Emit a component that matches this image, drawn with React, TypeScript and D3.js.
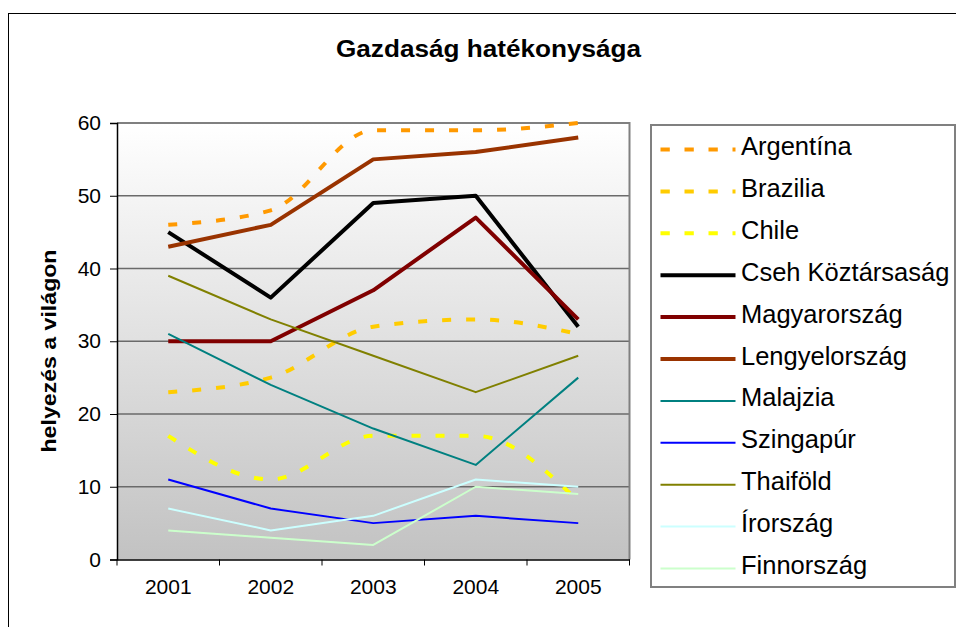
import React, { useEffect, useRef } from "react";
import * as d3 from "d3";

// years on the category axis
const years = ["2001", "2002", "2003", "2004", "2005"];
const yTicks = [0, 10, 20, 30, 40, 50, 60];

// ranking values per country
const argentina = [46, 48, 59, 59, 60];
const brazilia = [23, 25, 32, 33, 31];
const chile = [17, 11, 17, 17, 8];
const cseh = [45, 36, 49, 50, 32];
const magyar = [30, 30, 37, 47, 33];
const lengyel = [43, 46, 55, 56, 58];
const malajzia = [31, 24, 18, 13, 25];
const szingapur = [11, 7, 5, 6, 5];
const thaifold = [39, 33, 28, 23, 28];
const irorszag = [7, 4, 6, 11, 10];
const finnorszag = [4, 3, 2, 10, 9];

const series = [
  { name: "Argentína", values: argentina, color: "#FF9900", width: 4, dashed: true },
  { name: "Brazilia", values: brazilia, color: "#FFCC00", width: 4, dashed: true },
  { name: "Chile", values: chile, color: "#FFFF00", width: 4, dashed: true },
  { name: "Cseh Köztársaság", values: cseh, color: "#000000", width: 4, dashed: false },
  { name: "Magyarország", values: magyar, color: "#800000", width: 4, dashed: false },
  { name: "Lengyelország", values: lengyel, color: "#993300", width: 4, dashed: false },
  { name: "Malajzia", values: malajzia, color: "#008080", width: 2, dashed: false },
  { name: "Szingapúr", values: szingapur, color: "#0000FF", width: 2, dashed: false },
  { name: "Thaiföld", values: thaifold, color: "#808000", width: 2, dashed: false },
  { name: "Írország", values: irorszag, color: "#CCFFFF", width: 2, dashed: false },
  { name: "Finnország", values: finnorszag, color: "#CCFFCC", width: 2, dashed: false },
];

const W = 956;
const H = 627;
const plot = { left: 117, right: 629.5, top: 123, bottom: 559.5 };
const FONT = "'Liberation Sans', Arial, sans-serif";

const App = () => {
  const svgRef = useRef<SVGSVGElement>(null);

  useEffect(() => {
    const svg = d3.select(svgRef.current);
    svg.selectAll("*").remove();

    const x = d3
      .scaleBand()
      .domain(years)
      .range([plot.left, plot.right]);
    const y = d3.scaleLinear().domain([0, 60]).range([plot.bottom, plot.top]);
    const cx = (d: string) => (x(d) as number) + x.bandwidth() / 2;

    // outer frame
    svg
      .append("rect")
      .attr("x", 8.5)
      .attr("y", 13.5)
      .attr("width", W + 10)
      .attr("height", H + 10)
      .attr("fill", "#fff")
      .attr("stroke", "#000")
      .attr("stroke-width", 1);

    const defs = svg.append("defs");
    const grad = defs
      .append("linearGradient")
      .attr("id", "bg")
      .attr("x1", 0)
      .attr("y1", 0)
      .attr("x2", 0)
      .attr("y2", 1);
    grad.append("stop").attr("offset", "0%").attr("stop-color", "#ffffff");
    grad.append("stop").attr("offset", "100%").attr("stop-color", "#c2c2c2");

    svg
      .append("rect")
      .attr("x", plot.left)
      .attr("y", plot.top)
      .attr("width", plot.right - plot.left)
      .attr("height", plot.bottom - plot.top)
      .attr("fill", "url(#bg)");

    // gridlines
    svg
      .append("g")
      .selectAll("line")
      .data(yTicks.filter((t) => t > 0))
      .join("line")
      .attr("x1", plot.left)
      .attr("x2", plot.right)
      .attr("y1", (d) => y(d))
      .attr("y2", (d) => y(d))
      .attr("stroke", "#6a6a6a")
      .attr("stroke-width", 1.5);

    // plot border top/right
    svg
      .append("path")
      .attr("d", `M${plot.left},${plot.top}H${plot.right}V${plot.bottom}`)
      .attr("fill", "none")
      .attr("stroke", "#808080")
      .attr("stroke-width", 2);

    // y axis
    const yAxis = svg
      .append("g")
      .attr("transform", `translate(${plot.left},0)`)
      .call(d3.axisLeft(y).tickValues(yTicks).tickSize(7).tickPadding(9));
    yAxis.select(".domain").attr("stroke", "#000").attr("stroke-width", 1.5);
    yAxis.selectAll(".tick line").attr("stroke", "#000");
    yAxis
      .selectAll("text")
      .attr("font-family", FONT)
      .attr("font-size", 21)
      .attr("fill", "#000");

    // x axis
    const xAxis = svg
      .append("g")
      .attr("transform", `translate(0,${plot.bottom})`)
      .call(d3.axisBottom(x).tickSize(0).tickPadding(20));
    xAxis.select(".domain").attr("stroke", "#000").attr("stroke-width", 1.5);
    xAxis
      .selectAll("text")
      .attr("font-family", FONT)
      .attr("font-size", 21)
      .attr("fill", "#000");
    xAxis
      .selectAll("line.sep")
      .data(d3.range(years.length + 1))
      .join("line")
      .attr("class", "sep")
      .attr("x1", (i) => plot.left + i * x.step())
      .attr("x2", (i) => plot.left + i * x.step())
      .attr("y1", 0)
      .attr("y2", 6)
      .attr("stroke", "#000");

    // lines
    const straight = d3
      .line<number>()
      .x((_, i) => cx(years[i]))
      .y((d) => y(d));
    const smooth = d3
      .line<number>()
      .x((_, i) => cx(years[i]))
      .y((d) => y(d))
      .curve(d3.curveMonotoneX);

    svg
      .append("g")
      .selectAll("path")
      .data(series)
      .join("path")
      .attr("d", (s) => (s.dashed ? smooth(s.values) : straight(s.values)))
      .attr("fill", "none")
      .attr("stroke", (s) => s.color)
      .attr("stroke-width", (s) => s.width)
      .attr("stroke-dasharray", (s) => (s.dashed ? "9,15" : null))
      .attr("stroke-linejoin", "round");

    // title
    svg
      .append("text")
      .attr("x", 488.5)
      .attr("y", 57)
      .attr("text-anchor", "middle")
      .attr("font-family", FONT)
      .attr("font-weight", "bold")
      .attr("font-size", 23)
      .attr("textLength", 305)
      .attr("lengthAdjust", "spacingAndGlyphs")
      .text("Gazdaság hatékonysága");

    // y title
    svg
      .append("text")
      .attr("transform", "translate(56,351) rotate(-90)")
      .attr("text-anchor", "middle")
      .attr("font-family", FONT)
      .attr("font-weight", "bold")
      .attr("font-size", 21)
      .attr("textLength", 203)
      .attr("lengthAdjust", "spacingAndGlyphs")
      .text("helyezés a világon");

    // legend
    const legend = svg.append("g");
    legend
      .append("rect")
      .attr("x", 651)
      .attr("y", 125)
      .attr("width", 304)
      .attr("height", 462)
      .attr("fill", "#fff")
      .attr("stroke", "#808080")
      .attr("stroke-width", 2);

    const ly = d3
      .scalePoint()
      .domain(series.map((s) => s.name))
      .range([149.5, 568.5]);

    const items = legend
      .selectAll("g.item")
      .data(series)
      .join("g")
      .attr("class", "item")
      .attr("transform", (s) => `translate(0,${ly(s.name)})`);
    items
      .append("line")
      .attr("x1", 660.5)
      .attr("x2", 735.5)
      .attr("stroke", (s) => s.color)
      .attr("stroke-width", (s) => s.width)
      .attr("stroke-dasharray", (s) => (s.dashed ? "9.3,14.7" : null));
    items
      .append("text")
      .attr("x", 741)
      .attr("y", 5.5)
      .attr("font-family", FONT)
      .attr("font-size", 25.5)
      .attr("fill", "#000")
      .text((s) => s.name);
  }, []);

  return (
    <svg
      ref={svgRef}
      width={W}
      height={H}
      style={{ position: "absolute", left: 0, top: 0 }}
    />
  );
};

export default App;
